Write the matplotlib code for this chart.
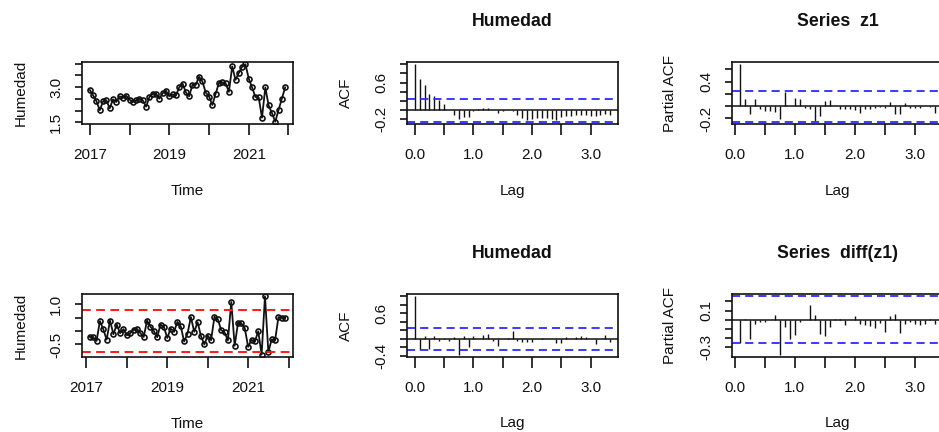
import numpy as np
import matplotlib

matplotlib.use("Agg")
import matplotlib.pyplot as plt

plt.rcParams["font.family"] = ["Liberation Sans", "DejaVu Sans"]

W, H, DPI = 939, 432, 100

# monthly humidity series z1, Jan 2017 .. Dec 2021
START, FREQ = 2017, 12
humedad = [2.88, 2.65, 2.40, 2.02, 2.40, 2.44, 2.10, 2.48, 2.37, 2.61, 2.55, 2.63,
           2.47, 2.37, 2.44, 2.51, 2.44, 2.17, 2.58, 2.72, 2.72, 2.51, 2.74, 2.85,
           2.61, 2.69, 2.65, 2.99, 3.15, 2.78, 2.61, 3.10, 3.10, 3.44, 3.24, 2.77,
           2.60, 2.24, 2.72, 3.18, 3.20, 3.17, 2.80, 3.88, 3.31, 3.60, 3.87, 3.97,
           3.36, 2.99, 2.58, 2.56, 1.70, 2.99, 2.22, 1.90, 1.53, 2.03, 2.51, 2.99]

# differenced series, Feb 2017 .. Dec 2021
humedad_diff = [-0.22, -0.23, -0.37, 0.37, 0.06, -0.32, 0.39, -0.12, 0.24, -0.08, 0.07,
                -0.16, -0.08, 0.04, 0.08, -0.08, -0.22, 0.39, 0.16, 0.00, -0.23, 0.24, 0.15,
                -0.26, 0.09, -0.03, 0.34, 0.17, -0.39, -0.10, 0.52, -0.03, 0.33, -0.19, -0.50,
                -0.17, -0.34, 0.53, 0.44, 0.03, -0.05, -0.35, 1.08, -0.55, 0.31, 0.28, 0.11,
                -0.59, -0.33, -0.39, -0.01, -0.88, 1.29, -0.78, -0.31, -0.35, 0.52, 0.49, 0.49]
diff_limits = [-0.78, 0.79]

# correlograms, lag in years (lag 0..40 for ACF, 1..40 for PACF)
acf_z1 = [1.00, 0.685, 0.55, 0.36, 0.31, 0.21, 0.13, 0.01, -0.10, -0.20, -0.16, -0.14,
          -0.01, 0.02, 0.04, 0.05, 0.01, -0.06, -0.02, 0.00, -0.02, -0.10, -0.18, -0.21,
          -0.20, -0.17, -0.17, -0.17, -0.19, -0.21, -0.16, -0.13, -0.12, -0.11, -0.11,
          -0.11, -0.12, -0.12, -0.10, -0.08, -0.10]
pacf_z1 = [0.685, 0.12, -0.12, 0.12, -0.05, -0.07, -0.08, -0.10, -0.21, 0.23, 0.00, 0.13,
           0.11, -0.03, -0.05, -0.24, -0.16, 0.08, 0.10, 0.00, -0.05, -0.05, -0.04, -0.06,
           -0.11, -0.05, -0.04, -0.03, -0.02, -0.03, 0.07, -0.12, -0.13, 0.05, -0.03,
           -0.03, -0.03, 0.00, -0.01, -0.11]
acf_diff = [1.00, -0.25, 0.07, -0.23, 0.06, -0.05, 0.02, -0.04, 0.04, -0.37, 0.08, -0.20,
            0.08, 0.00, 0.10, 0.11, -0.04, -0.17, 0.00, 0.01, 0.18, -0.06, -0.07, -0.07,
            -0.07, 0.00, 0.02, 0.00, -0.01, -0.10, -0.09, 0.04, 0.00, 0.04, 0.06, 0.04,
            0.00, -0.13, 0.00, 0.10, -0.08]
pacf_diff = [-0.25, 0.01, -0.21, -0.05, -0.02, -0.02, 0.00, 0.05, -0.38, -0.08, -0.21,
             -0.17, -0.02, 0.00, 0.16, 0.05, -0.15, -0.18, -0.08, 0.01, 0.01, -0.06, 0.00,
             0.04, -0.05, -0.06, -0.07, -0.09, -0.04, -0.13, 0.04, 0.06, -0.14, -0.05,
             -0.02, -0.05, -0.06, -0.05, 0.01, -0.05]
ci_z1, ci_diff = 0.253, 0.255

BLUE = "#2b2bff"
RED = "#ff1a1a"
DASH = (0, (4.5, 2.8))
FS, FS_MAIN = 11, 12.7

# plot-region boxes in pixels (left, right) / (top, bottom)
COLS = [(82, 293), (407, 618), (732, 943)]
ROWS = [(62, 124), (294, 357)]

fig = plt.figure(figsize=(W / DPI, H / DPI), dpi=DPI)
fig.patch.set_facecolor("white")


def ftext(x, y, s, **kw):
    fig.text(x / W, 1 - y / H, s, color="#111111", **kw)


def panel(col, row, xlab, ylab, title=None):
    x0, x1 = COLS[col]
    y0, y1 = ROWS[row]
    ax = fig.add_axes([x0 / W, 1 - y1 / H, (x1 - x0) / W, (y1 - y0) / H])
    for sp in ax.spines.values():
        sp.set_linewidth(1.2)
        sp.set_color("#111111")
    ax.tick_params(axis="x", direction="out", length=7.9, width=1.2, pad=9.4,
                   labelsize=FS, colors="#111111")
    ax.tick_params(axis="y", direction="out", length=5.4, width=1.2, pad=8.2,
                   labelsize=FS, colors="#111111")
    cx, cy = (x0 + x1) / 2, (y0 + y1) / 2
    base = 195 if row == 0 else 427.5
    ftext(cx, base, xlab, ha="center", va="baseline", fontsize=FS)
    ftext(x0 - 57.5, cy, ylab, ha="center", va="baseline", rotation=90,
          rotation_mode="anchor", fontsize=FS)
    if title:
        tb = 26.3 if row == 0 else 257.8
        ftext(cx, tb, title, ha="center", va="baseline", fontsize=FS_MAIN,
              fontweight="bold")
    return ax


def set_yaxis(ax, ticks, labels):
    ax.set_yticks(ticks)
    ax.set_yticklabels(labels, rotation=90, va="center")


def lag_xaxis(ax, lags):
    pad = 0.04 * (lags[-1] - lags[0])
    ax.set_xlim(lags[0] - pad, lags[-1] + pad)
    ax.set_xticks(np.arange(0, 3.01, 0.5))
    ax.set_xticklabels(["0.0", "", "1.0", "", "2.0", "", "3.0"])


def correlogram(ax, lags, vals, ci):
    ax.vlines(lags, 0, vals, color="#111111", lw=1.0)
    ax.axhline(0, color="#111111", lw=1.1)
    ax.axhline(ci, color=BLUE, lw=1.3, ls=DASH)
    ax.axhline(-ci, color=BLUE, lw=1.3, ls=DASH)
    lo, hi = min(min(vals), -ci), max(max(vals), ci)
    pad = 0.04 * (hi - lo)
    ax.set_ylim(lo - pad, hi + pad)
    lag_xaxis(ax, lags)


def time_series(ax, t, y):
    ax.plot(t, y, color="#111111", lw=1.3, marker="o", ms=3.6, mfc="none",
            mec="#111111", mew=1.2)
    ax.margins(x=0.04, y=0.04)
    ax.set_xticks(np.arange(2017, 2023))
    ax.set_xticklabels(["2017", "", "2019", "", "2021", ""])


lag_acf = np.arange(len(acf_z1)) / FREQ
lag_pacf = np.arange(1, len(pacf_z1) + 1) / FREQ

# top row: the series and its correlograms
t1 = START + np.arange(len(humedad)) / FREQ
ax = panel(0, 0, "Time", "Humedad")
time_series(ax, t1, humedad)
set_yaxis(ax, [1.5, 2.0, 2.5, 3.0, 3.5, 4.0], ["1.5", "", "", "3.0", "", ""])

ax = panel(1, 0, "Lag", "ACF", "Humedad")
correlogram(ax, lag_acf, acf_z1, ci_z1)
set_yaxis(ax, [-0.2, 0.0, 0.2, 0.4, 0.6, 0.8, 1.0], ["-0.2", "", "", "", "0.6", "", ""])

ax = panel(2, 0, "Lag", "Partial ACF", "Series  z1")
correlogram(ax, lag_pacf, pacf_z1, ci_z1)
set_yaxis(ax, [-0.2, 0.0, 0.2, 0.4, 0.6], ["-0.2", "", "", "0.4", ""])

# bottom row: first differences
t2 = START + np.arange(1, len(humedad_diff) + 1) / FREQ
ax = panel(0, 1, "Time", "Humedad")
time_series(ax, t2, humedad_diff)
for lim in diff_limits:
    ax.axhline(lim, color=RED, lw=1.4, ls=DASH)
set_yaxis(ax, [-0.5, 0.0, 0.5, 1.0], ["-0.5", "", "", "1.0"])

ax = panel(1, 1, "Lag", "ACF", "Humedad")
correlogram(ax, lag_acf, acf_diff, ci_diff)
set_yaxis(ax, [-0.4, -0.2, 0.0, 0.2, 0.4, 0.6, 0.8, 1.0],
          ["-0.4", "", "", "", "", "0.6", "", ""])

ax = panel(2, 1, "Lag", "Partial ACF", "Series  diff(z1)")
correlogram(ax, lag_pacf, pacf_diff, ci_diff)
set_yaxis(ax, [-0.3, -0.2, -0.1, 0.0, 0.1, 0.2], ["-0.3", "", "", "", "0.1", ""])

fig.savefig("out.png", dpi=DPI, facecolor="white")
